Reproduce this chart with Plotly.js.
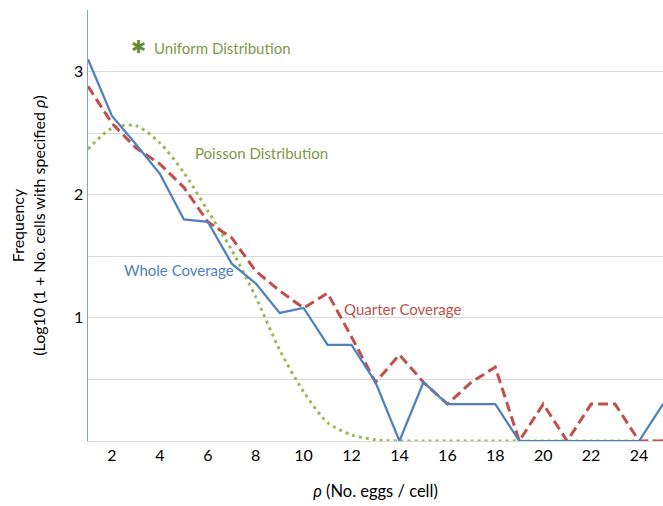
<!DOCTYPE html>
<html>
<head>
<meta charset="utf-8">
<script src="https://cdn.plot.ly/plotly-3.0.1.min.js"></script>
<style>html,body{margin:0;padding:0;background:#fff;}#chart{width:663px;height:506px;}</style>
</head>
<body>
<div id="chart"></div>
<script>
const rho = [1,2,3,4,5,6,7,8,9,10,11,12,13,14,15,16,17,18,19,20,21,22,23,24,25];
const wholeCoverage = [3.10,2.64,2.41,2.17,1.80,1.78,1.44,1.28,1.04,1.08,0.78,0.78,0.477,0,0.477,0.30,0.30,0.30,0,0,0,0,0,0,0.30];
const quarterCoverage = [2.88,2.58,2.38,2.25,2.06,1.78,1.65,1.38,1.22,1.08,1.20,0.845,0.477,0.70,0.477,0.30,0.477,0.60,0,0.30,0,0.30,0.30,0,0];
const poisson = [2.37,2.54,2.56,2.42,2.18,1.87,1.55,1.17,0.74,0.40,0.15,0.05,0.01,0,0,0,0,0,0,0,0,0,0,0,0];
const xTickVals = [2,4,6,8,10,12,14,16,18,20,22,24];
const yGridVals = [0.5,1,1.5,2,2.5,3,3.5];
const yTickText = ['','1','','2','','3',''];

const FONT = 'Lato, "Open Sans", sans-serif';
const BLUE = '#4f81bd', RED = '#c0504d', GREEN = '#9bbb59', GREENTXT = '#7f9a48';

const traces = [
  {x: rho, y: poisson, type: 'scatter', mode: 'lines', name: 'Poisson Distribution',
   line: {color: GREEN, width: 3, dash: '3px,4px', shape: 'spline', smoothing: 0.8}},
  {x: rho, y: quarterCoverage, type: 'scatter', mode: 'lines', name: 'Quarter Coverage',
   line: {color: RED, width: 3, dash: '10px,5px'}},
  {x: rho, y: wholeCoverage, type: 'scatter', mode: 'lines', name: 'Whole Coverage',
   line: {color: BLUE, width: 2.25}}
];

const layout = {
  width: 663, height: 506,
  margin: {l: 88, r: 0, t: 10, b: 65},
  paper_bgcolor: '#fff', plot_bgcolor: '#fff',
  showlegend: false,
  font: {family: FONT, size: 16, color: '#000'},
  xaxis: {
    range: [1, 25], tickvals: xTickVals, ticks: '', showgrid: false, zeroline: false,
    showline: true, linecolor: '#d9d9d9', linewidth: 1,
    tickfont: {family: FONT, size: 16, color: '#000'},
    title: {text: '<i>ρ</i> (No. eggs / cell)', font: {family: FONT, size: 16.5, color: '#000'}, standoff: 22},
    fixedrange: true
  },
  yaxis: {
    range: [0, 3.5], tickvals: yGridVals, ticktext: yTickText, ticks: '',
    showgrid: true, gridcolor: '#d9d9d9', gridwidth: 1, zeroline: false,
    showline: true, linecolor: '#7aa3d8', linewidth: 1.5,
    tickfont: {family: FONT, size: 16, color: '#000'},
    title: {text: 'Frequency<br>(Log10 (1 + No. cells with specified <i>ρ</i>)', font: {family: FONT, size: 16, color: '#000'}, standoff: 24},
    fixedrange: true
  },
  annotations: [
    {x: 3.09, y: 3.2, xref: 'x', yref: 'y', text: '✱', showarrow: false, font: {family: 'DejaVu Sans', size: 18, color: '#6a8a36'}, xanchor: 'center', yanchor: 'middle'},
    {x: 3.67, y: 3.195, xref: 'x', yref: 'y', text: 'Uniform Distribution', showarrow: false, font: {family: FONT, size: 15, color: GREENTXT}, xanchor: 'left', yanchor: 'middle'},
    {x: 5.38, y: 2.34, xref: 'x', yref: 'y', text: 'Poisson Distribution', showarrow: false, font: {family: FONT, size: 15, color: GREENTXT}, xanchor: 'left', yanchor: 'middle'},
    {x: 2.42, y: 1.39, xref: 'x', yref: 'y', text: 'Whole Coverage', showarrow: false, font: {family: FONT, size: 15, color: BLUE}, xanchor: 'left', yanchor: 'middle'},
    {x: 11.6, y: 1.07, xref: 'x', yref: 'y', text: 'Quarter Coverage', showarrow: false, font: {family: FONT, size: 15, color: RED}, xanchor: 'left', yanchor: 'middle'}
  ]
};

Plotly.newPlot('chart', traces, layout, {staticPlot: true, displayModeBar: false});
</script>
</body>
</html>
